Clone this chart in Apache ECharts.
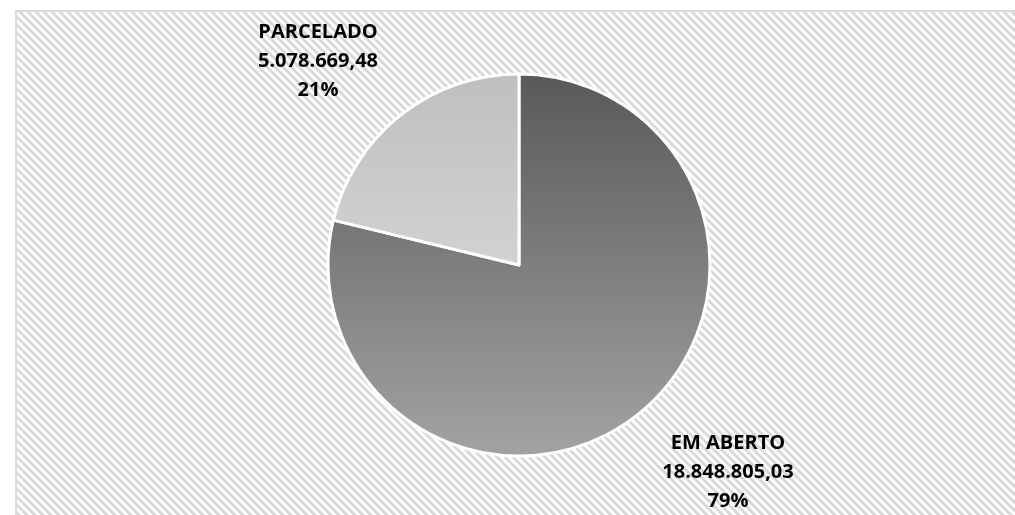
<!DOCTYPE html>
<html>
<head>
<meta charset="utf-8">
<script src="https://cdn.jsdelivr.net/npm/echarts@6/dist/echarts.min.js"></script>
<style>
html,body{margin:0;padding:0;background:#fff;}
#main{width:1015px;height:515px;}
</style>
</head>
<body>
<div id="main"></div>
<script>
// dados
var categorias = ['EM ABERTO', 'PARCELADO'];
var valores = [18848805.03, 5078669.48];
var valoresTexto = ['18.848.805,03', '5.078.669,48'];

/*hachura de fundo*/
function hatch() {
	var c = document.createElement('canvas');
	c.width = 8;
	c.height = 8;
	var ctx = c.getContext('2d');
	ctx.fillStyle = '#ffffff';
	ctx.fillRect(0, 0, 8, 8);
	ctx.strokeStyle = '#d8d8d8';
	ctx.lineWidth = 2.8;
	ctx.beginPath();
	ctx.moveTo(-2, -2); ctx.lineTo(10, 10);
	ctx.moveTo(-10, -2); ctx.lineTo(2, 10);
	ctx.moveTo(6, -2); ctx.lineTo(18, 10);
	ctx.stroke();
	return c;
}

var total = valores[0] + valores[1];
var cores = [
	new echarts.graphic.LinearGradient(0, 0, 0, 1, [{offset: 0, color: '#595959'}, {offset: 1, color: '#a3a3a3'}]),
	new echarts.graphic.LinearGradient(0, 0, 0, 1, [{offset: 0, color: '#bfbfbf'}, {offset: 1, color: '#d2d2d2'}])
];
var dados = [];
for (var i = 0; i < categorias.length; i++) {
	dados.push({name: categorias[i], value: valores[i], itemStyle: {color: cores[i]}});
}
var posLabel = [[728, 472], [318, 61]];

var myChart = echarts.init(document.getElementById('main'));
var option = {
	animation: false,
	graphic: [{
		type: 'rect',
		shape: {x: 16, y: 11, width: 1010, height: 520},
		style: {fill: {image: hatch(), repeat: 'repeat'}, stroke: '#d9d9d9', lineWidth: 2},
		z: -10
	}],
	series: [{
		type: 'pie',
		center: [519, 265],
		radius: [0, 191],
		startAngle: 90,
		clockwise: true,
		itemStyle: {borderColor: '#ffffff', borderWidth: 3},
		label: {
			show: true,
			position: 'outside',
			formatter: function (p) {
				return p.name + '\n' + valoresTexto[p.dataIndex] + '\n' + Math.round(p.value / total * 100) + '%';
			},
			fontFamily: 'Open Sans',
			fontWeight: 'bold',
			fontSize: 20,
			lineHeight: 29,
			color: '#000',
			align: 'center'
		},
		labelLine: {show: false},
		labelLayout: function (p) {
			return {x: posLabel[p.dataIndex][0], y: posLabel[p.dataIndex][1], align: 'center', verticalAlign: 'middle'};
		},
		emphasis: {disabled: true},
		data: dados
	}]
};
myChart.setOption(option);
</script>
</body>
</html>
